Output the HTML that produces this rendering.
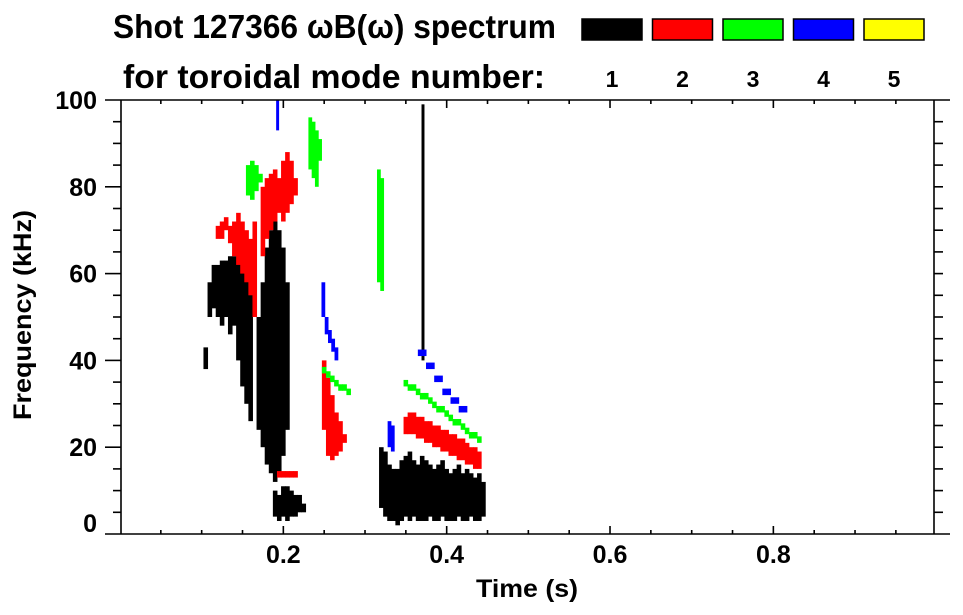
<!DOCTYPE html>
<html><head><meta charset="utf-8"><style>
html,body{margin:0;padding:0;background:#fff;}
svg{display:block;font-family:"Liberation Sans",sans-serif;font-weight:bold;}
</style></head><body>
<svg id="chart" width="963" height="615" viewBox="0 0 963 615" xmlns="http://www.w3.org/2000/svg">
<text x="113" y="38" font-size="33" fill="#000" textLength="443" lengthAdjust="spacingAndGlyphs">Shot 127366 ωB(ω) spectrum</text>
<text x="123" y="88" font-size="33" fill="#000" textLength="422" lengthAdjust="spacingAndGlyphs">for toroidal mode number:</text>
<g id="legend"></g>
<g id="marks"></g>
<g id="axes"></g>
<text x="476" y="597" font-size="25" textLength="102" lengthAdjust="spacingAndGlyphs">Time (s)</text>
<text transform="translate(31,420) rotate(-90)" font-size="25" textLength="210" lengthAdjust="spacingAndGlyphs">Frequency (kHz)</text>
</svg>
<script>
// ---- data ----
const modeNumbers = [1, 2, 3, 4, 5];
const modeColors = ["#000000", "#ff0000", "#00ff00", "#0000ff", "#ffff00"];
const xTickLabels = [0.2, 0.4, 0.6, 0.8];
const yTickLabels = [0, 20, 40, 60, 80, 100];

// mode 1 (black)
const m1aTimes = [0.105,0.11,0.115,0.12,0.125,0.13,0.135,0.14,0.145,0.15,0.155,0.16];
const m1aLo    = [38,50,52,50,48,50,46,48,40,34,30,26];
const m1aHi    = [43,58,62,62,63,63,64,64,66,68,66,58];
const m1bTimes = [0.17,0.175,0.18,0.185,0.19,0.195,0.2,0.205];
const m1bLo    = [24,20,16,14,12,14,18,24];
const m1bHi    = [50,58,66,70,72,70,66,58];
const m1cTimes = [0.19,0.195,0.2,0.205,0.21,0.215,0.22,0.225];
const m1cLo    = [4,3,4,3,4,4,5,5];
const m1cHi    = [10,9,11,11,10,9,9,7];
const m1dTimes = [0.32,0.325,0.33,0.335,0.34,0.345,0.35,0.355,0.36,0.365,0.37,0.375,0.38,0.385,0.39,0.395,0.4,0.405,0.41,0.415,0.42,0.425,0.43,0.435,0.44,0.445];
const m1dLo    = [6,4,3,3,2,3,4,3,4,3,3,3,4,3,3,4,3,3,3,4,3,3,4,3,3,4];
const m1dHi    = [20,19,16,15,15,17,18,19,17,16,18,17,16,15,16,17,15,14,15,16,14,15,14,13,14,12];
const m1eTimes = [0.371];
const m1eLo    = [40];
const m1eHi    = [99];

// mode 2 (red)
const m2aTimes = [0.12,0.125,0.13,0.135,0.14,0.145,0.15,0.155,0.16,0.165];
const m2aLo    = [68,68,70,67,64,62,60,58,55,50];
const m2aHi    = [71,72,73,71,72,74,72,70,68,72];
const m2bTimes = [0.175,0.18,0.185,0.19,0.195,0.2,0.205,0.21,0.215];
const m2bLo    = [64,68,70,72,74,72,74,76,78];
const m2bHi    = [80,82,83,84,82,86,88,86,82];
const m2cTimes = [0.25,0.255,0.26,0.265,0.27,0.275];
const m2cLo    = [24,18,17,18,19,21];
const m2cHi    = [40,36,32,28,26,23];
const m2dTimes = [0.35,0.355,0.36,0.365,0.37,0.375,0.38,0.385,0.39,0.395,0.4,0.405,0.41,0.415,0.42,0.425,0.43,0.435,0.44];
const m2dLo    = [23,23,23,22,22,21,21,20,20,19,19,18,18,17,17,16,16,15,15];
const m2dHi    = [27,28,28,27,27,26,26,25,25,24,24,23,23,22,22,21,20,20,19];
const m2eTimes = [0.195,0.2,0.205,0.21,0.215];
const m2eLo    = [13,13,13,13,13];
const m2eHi    = [14.5,14.5,14.5,14.5,14.5];

// mode 3 (green)
const m3aTimes = [0.157,0.162,0.167,0.172];
const m3aLo    = [78,77,79,81];
const m3aHi    = [85,86,85,83];
const m3bTimes = [0.233,0.237,0.241,0.245];
const m3bLo    = [84,82,80,86];
const m3bHi    = [96,95,93,91];
const m3cTimes = [0.317,0.321];
const m3cLo    = [58,56];
const m3cHi    = [84,82];
const m3dTimes = [0.25,0.255,0.26,0.265,0.27,0.275,0.28];
const m3dLo    = [37,36,35,34,33,33,32];
const m3dHi    = [38.5,37.5,36.5,35.5,34.5,34.5,33.5];
const m3eTimes = [0.35,0.355,0.36,0.365,0.37,0.375,0.38,0.385,0.39,0.395,0.4,0.405,0.41,0.415,0.42,0.425,0.43,0.435,0.44];
const m3eLo    = [34,33,33,32,31,31,30,29,28,28,27,26,25,25,24,23,22,22,21];
const m3eHi    = [35.5,34.5,34.5,33.5,32.5,32.5,31.5,30.5,29.5,29.5,28.5,27.5,26.5,26.5,25.5,24.5,23.5,23.5,22.5];

// mode 4 (blue)
const m4aTimes = [0.249,0.253,0.257,0.261,0.265];
const m4aLo    = [50,46,44,42,40];
const m4aHi    = [58,50,47,45,43];
const m4bTimes = [0.33,0.334];
const m4bLo    = [20,19];
const m4bHi    = [26,25];
const m4cTimes = [0.37,0.38,0.39,0.4,0.41,0.42];
const m4cLo    = [41,38,35,32,30,28];
const m4cHi    = [42.5,39.5,36.5,33.5,31.5,29.5];
const m4dTimes = [0.193];
const m4dLo    = [93];
const m4dHi    = [100];

const features = [
  [0,m1aTimes,m1aLo,m1aHi],[0,m1bTimes,m1bLo,m1bHi],[0,m1cTimes,m1cLo,m1cHi],[0,m1dTimes,m1dLo,m1dHi],[0,m1eTimes,m1eLo,m1eHi],
  [1,m2aTimes,m2aLo,m2aHi],[1,m2bTimes,m2bLo,m2bHi],[1,m2cTimes,m2cLo,m2cHi],[1,m2dTimes,m2dLo,m2dHi],[1,m2eTimes,m2eLo,m2eHi],
  [2,m3aTimes,m3aLo,m3aHi],[2,m3bTimes,m3bLo,m3bHi],[2,m3cTimes,m3cLo,m3cHi],[2,m3dTimes,m3dLo,m3dHi],[2,m3eTimes,m3eLo,m3eHi],
  [3,m4aTimes,m4aLo,m4aHi],[3,m4bTimes,m4bLo,m4bHi],[3,m4cTimes,m4cLo,m4cHi],[3,m4dTimes,m4dLo,m4dHi]
];

// ---- scales ----
const X0 = 120, XPX = 816.7, Y0 = 534, YPX = 4.34;
function xs(t){ return X0 + t*XPX; }
function ys(f){ return Y0 - f*YPX; }
const NS = "http://www.w3.org/2000/svg";
function mk(tag, parent){ const e = document.createElementNS(NS, tag); parent.appendChild(e); return e; }

// ---- legend ----
const lg = document.getElementById('legend');
modeNumbers.forEach((m, i) => {
  const r = mk('rect', lg);
  
  
  r.setAttribute('x', 582 + i*70.5); r.setAttribute('y', 19);
  r.setAttribute('width', 60); r.setAttribute('height', 21);
  r.setAttribute('fill', modeColors[i]); r.setAttribute('stroke', '#000'); r.setAttribute('stroke-width', 1.5);
  const t = mk('text', lg);
  
  
  t.setAttribute('x', 612 + i*70.5); t.setAttribute('y', 87);
  t.setAttribute('font-size', 23); t.setAttribute('text-anchor', 'middle');
  t.textContent = m;
});

// ---- marks ----
const mg = document.getElementById('marks');
features.forEach((f, k) => {
  const [mi, T, L, H] = f;
  T.forEach((t, j) => {
    const step = T.length > 1 ? (T[Math.min(j+1,T.length-1)] - T[Math.max(j-1,0)]) / (j===0||j===T.length-1 ? 1 : 2) : 0.003;
    const w = Math.max(2, step*XPX + 0.5);
    const r = mk('rect', mg);
    
    
    r.setAttribute('x', xs(t) - w/2); r.setAttribute('y', ys(H[j]));
    r.setAttribute('width', w); r.setAttribute('height', Math.max(2, ys(L[j]) - ys(H[j])));
    r.setAttribute('fill', modeColors[mi]);
  });
});

// ---- axes ----
const ag = document.getElementById('axes');
function line(x1,y1,x2,y2,name){
  const l = mk('line', ag);
  
  
  l.setAttribute('x1',x1);l.setAttribute('y1',y1);l.setAttribute('x2',x2);l.setAttribute('y2',y2);
  l.setAttribute('stroke','#000');l.setAttribute('stroke-width',1.6);
}
const XR = 934, YT = 100;
line(105, Y0, 950, Y0, 'x-axis-line');
line(105, YT, 950, YT, 'top-axis-line');
line(X0+1, YT, X0+1, Y0, 'y-axis-line');
line(XR, YT, XR, Y0, 'right-axis-line');
for (let i = 1; i < 20; i++){
  const t = i*0.05, x = xs(t), major = i%4===0;
  line(x, Y0, x, Y0 - (major?8:4), 'x-tick');
  line(x, YT, x, YT + (major?8:4), 'top-tick');
}
for (let i = 1; i < 20; i++){
  const y = ys(i*5), major = i%4===0;
  line(X0+1, y, X0+1 - (major?16:8), y, 'y-tick');
  line(XR, y, XR + 9, y, 'right-tick');
}
xTickLabels.forEach(v => {
  const t = mk('text', ag);
  
  
  t.setAttribute('x', xs(v)); t.setAttribute('y', 563);
  t.setAttribute('font-size', 25); t.setAttribute('text-anchor', 'middle');
  t.textContent = v.toFixed(1);
});
yTickLabels.forEach(v => {
  const t = mk('text', ag);
  
  
  t.setAttribute('x', 97); t.setAttribute('y', v === 0 ? 532 : ys(v) + 9);
  t.setAttribute('font-size', 25); t.setAttribute('text-anchor', 'end');
  t.textContent = v;
});
</script>
</body></html>
